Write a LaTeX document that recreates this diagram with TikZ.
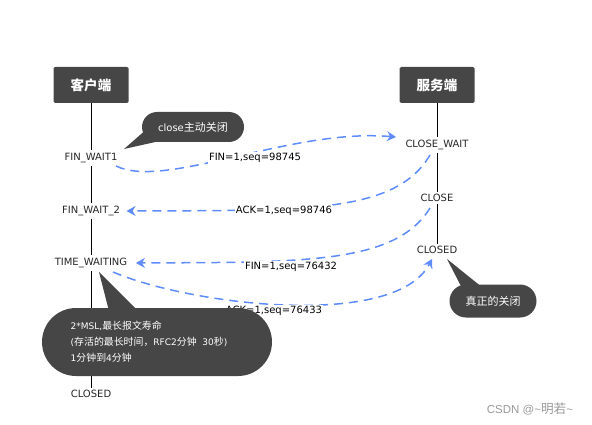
\documentclass[tikz,border=0pt]{standalone}
\usepackage{fontspec}
\setmainfont{DejaVu Sans}
\newfontfamily\cjk{Noto Sans CJK SC}[Scale=1.1]
\newfontfamily\arial{Liberation Sans}
\usetikzlibrary{arrows.meta,positioning,calc,shapes.misc}
\definecolor{BoxGray}{RGB}{70,70,70}
\definecolor{MsgBlue}{RGB}{95,140,250}

\begin{document}
\begin{tikzpicture}[x=1pt,y=-1pt,
  hd/.style={rectangle,fill=BoxGray,rounded corners=1.5pt,minimum width=75pt,minimum height=36pt,font=\fontsize{12.3}{14}\selectfont\cjk\bfseries,text=white},
  st/.style={inner sep=2.5pt,font=\fontsize{10}{12}\selectfont,text=black!85},
  lb/.style={fill=white,inner sep=1pt,font=\fontsize{10}{12}\selectfont,text=black},
  bub/.style={rounded rectangle,fill=BoxGray,text=white,font=\fontsize{10}{16}\selectfont,inner sep=0pt},
  msg/.style={draw=MsgBlue,line width=1.5pt,dash pattern=on 9pt off 6pt,-{Stealth[length=9pt,width=10pt,inset=3pt]}}
]
  \useasboundingbox (0,0) rectangle (592,425);
  % headers
  \node[hd] (cli) at (91,85) {客户端};
  \node[hd] (srv) at (437,85) {服务端};
  % client states
  \node[st] (c1) at (91,158) {FIN\_WAIT1};
  \node[st] (c2) at (91,211) {FIN\_WAIT\_2};
  \node[st] (c3) at (91,263) {TIME\_WAITING};
  \node[st] (c4) at (91,394) {CLOSED};
  % server states
  \node[st] (s1) at (437,145) {CLOSE\_WAIT};
  \node[st] (s2) at (437,198) {CLOSE};
  \node[st] (s3) at (437,250) {CLOSED};
  % life lines
  \draw[line width=0.6pt] (cli)--(c1) (c1)--(c2) (c2)--(c3) (c3)--(c4);
  \draw[line width=0.6pt] (srv)--(s1) (s1)--(s2) (s2)--(s3);
  % messages
  \coordinate (m1a) at (116,166);
  \coordinate (m1b) at (396,137);
  \coordinate (m2a) at (430,155);
  \coordinate (m3a) at (430,208);
  \coordinate (m4a) at (113,272);
  \coordinate (m4b) at (432,259);
  \draw[msg] (m1a) .. controls (165,190) and (290,128) .. (m1b);
  \draw[msg] (m2a) .. controls (395,215) and (300,210) .. ([xshift=4pt]c2.east);
  \draw[msg] (m3a) .. controls (395,265) and (300,262) .. ([xshift=6pt]c3.east);
  \draw[msg] (m4a) .. controls (190,305) and (395,330) .. (m4b);
  \node[lb] (l1) at (255,158) {FIN=1,seq=98745};
  \node[lb] (l2) at (284,211) {ACK=1,seq=98746};
  \node[lb] (l3) at (291,267) {FIN=1,seq=76432};
  \node[lb] (l4) at (274,311) {ACK=1,seq=76433};
  % callouts
  \node[bub,minimum width=102pt,minimum height=30pt] (b1) at (193,127) {close{\cjk 主动关闭}};
  \coordinate (b1t) at (124,149);
  \fill[BoxGray] (148,128) -- (b1t) -- (160,141) -- cycle;
  \node[bub,minimum width=87pt,minimum height=33pt] (b2) at (493,301) {\cjk 真正的关闭};
  \coordinate (b2t) at (447,259);
  \fill[BoxGray] (464,292) -- (b2t) -- (488,292) -- cycle;
  \coordinate (b3t) at (99,272);
  \fill[BoxGray] (110,315) -- (b3t) -- (142,315) -- cycle;
  \node[bub,minimum width=230pt,minimum height=68pt] (b3) at (157,342) {};
  \node[text=white,font=\fontsize{9}{16}\selectfont,align=left,inner sep=0pt] (b3txt) at ([xshift=-8pt]b3.center)
    {2*MSL,{\cjk 最长报文寿命}\\({\cjk 存活的最长时间，}RFC2{\cjk 分钟}\ \ 30{\cjk 秒})\\1{\cjk 分钟到}4{\cjk 分钟}};
  % watermark
  \node[font=\fontsize{11.5}{13}\selectfont\arial,text=black!40] (wm) at (530,409) {CSDN @\textasciitilde{\cjk 明若}\textasciitilde};
\end{tikzpicture}
\end{document}
